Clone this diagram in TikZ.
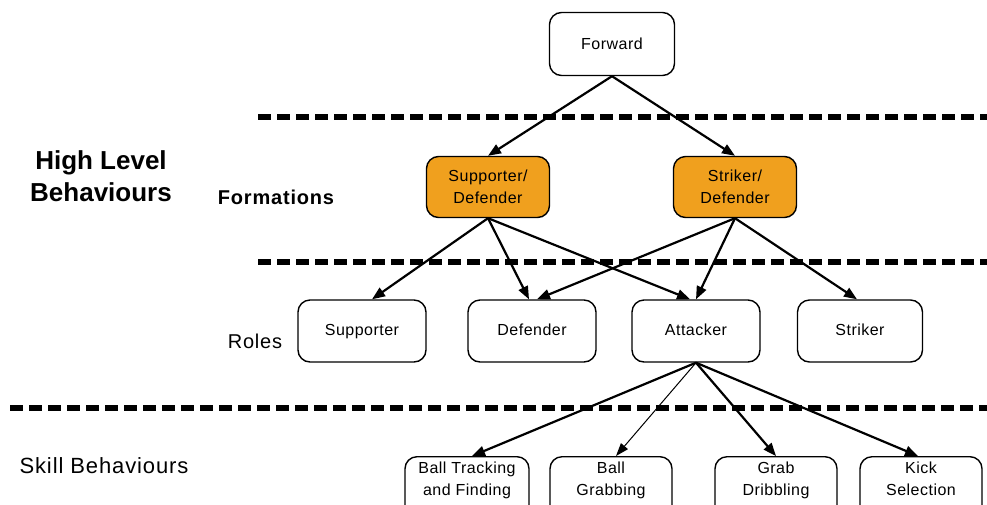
\documentclass[tikz,border=0pt]{standalone}
\usepackage{fontspec}
\setmainfont{Liberation Sans}
\newfontfamily\boxfont[LetterSpace=3]{Liberation Sans}
\newfontfamily\labelfont[LetterSpace=4]{Liberation Sans}
\usetikzlibrary{arrows.meta}
\definecolor{formorange}{RGB}{240,160,30}
\begin{document}
\begin{tikzpicture}[x=1pt,y=-1pt,
  box/.style={draw=black,line width=1.4pt,rounded corners=12pt,align=center,
    font=\boxfont\fontsize{16}{22}\selectfont,inner sep=0pt},
  formbox/.style={box,fill=formorange},
  rolebox/.style={box,minimum height=62pt,text height=12pt,text depth=3.5pt},
  skillbox/.style={box,anchor=north,minimum width=124pt,inner ysep=5pt,text depth=32pt},
  link/.style={line width=2.2pt,-{Triangle[length=13pt,width=10pt]}},
  thinlink/.style={line width=1pt,-{Triangle[length=13pt,width=9pt]}},
  layer/.style={line width=5.5pt,dash pattern=on 13pt off 6pt},
  heading/.style={font=\fontsize{26}{32}\selectfont\bfseries,align=center},
  sublabel/.style={font=\labelfont\fontsize{20}{24}\selectfont\bfseries},
  label/.style={font=\labelfont\fontsize{20}{24}\selectfont}
]
\clip (0,0) rectangle (987,504);

% layer separators
\coordinate (l1a) at (258,117); \coordinate (l1b) at (992,117);
\coordinate (l2a) at (258,262); \coordinate (l2b) at (992,262);
\coordinate (l3a) at (10,408);  \coordinate (l3b) at (992,408);
\draw[layer] (l1a) -- (l1b);
\draw[layer] (l2a) -- (l2b);
\draw[layer] (l3a) -- (l3b);

% layer labels
\node[heading] (hlb) at (101,176) {High Level\\Behaviours};
\node[sublabel] (form) at (276,197) {Formations};
\node[label] (roles) at (255,341) {Roles};
\node[label,font=\labelfont\fontsize{22}{26}\selectfont] (skill) at (104,466) {Skill Behaviours};

% top level
\node[box,minimum width=125pt,minimum height=63pt] (fwd) at (612,44) {Forward};

% formations
\node[formbox,minimum width=123pt,minimum height=61pt] (sd) at (488,187) {Supporter/\\Defender};
\node[formbox,minimum width=123pt,minimum height=61pt] (std) at (735,187) {Striker/\\Defender};

% roles
\node[rolebox,minimum width=128pt] (sup) at (362,331) {Supporter};
\node[rolebox,minimum width=128pt] (def) at (532,331) {Defender};
\node[rolebox,minimum width=128pt] (att) at (696,331) {Attacker};
\node[rolebox,minimum width=125pt] (str) at (860,331) {Striker};

% skill behaviours (boxes run on below the lower edge)
\node[skillbox] (btf) at (467,456) {Ball Tracking\\and Finding};
\node[skillbox,minimum width=122pt] (bg) at (611,456) {Ball\\Grabbing};
\node[skillbox,minimum width=122pt] (gd) at (776,456) {Grab\\Dribbling};
\node[skillbox,minimum width=122pt] (ks) at (921,456) {Kick\\Selection};

% connectors
\draw[link] (fwd.south) -- (sd.north);
\draw[link] (fwd.south) -- (std.north);
\draw[link] (sd.south) -- ([xshift=10pt]sup.north);
\draw[link] (sd.south) -- ([xshift=-3pt]def.north);
\draw[link] (sd.south) -- ([xshift=-6pt]att.north);
\draw[link] (std.south) -- ([xshift=5pt]def.north);
\draw[link] (std.south) -- (att.north);
\draw[link] (std.south) -- ([xshift=-3pt]str.north);
\draw[link] (att.south) -- ([xshift=5pt]btf.north);
\draw[thinlink] (att.south) -- ([xshift=5pt]bg.north);
\draw[link] (att.south) -- (gd.north);
\draw[link] (att.south) -- ([xshift=-3pt]ks.north);
\end{tikzpicture}
\end{document}
